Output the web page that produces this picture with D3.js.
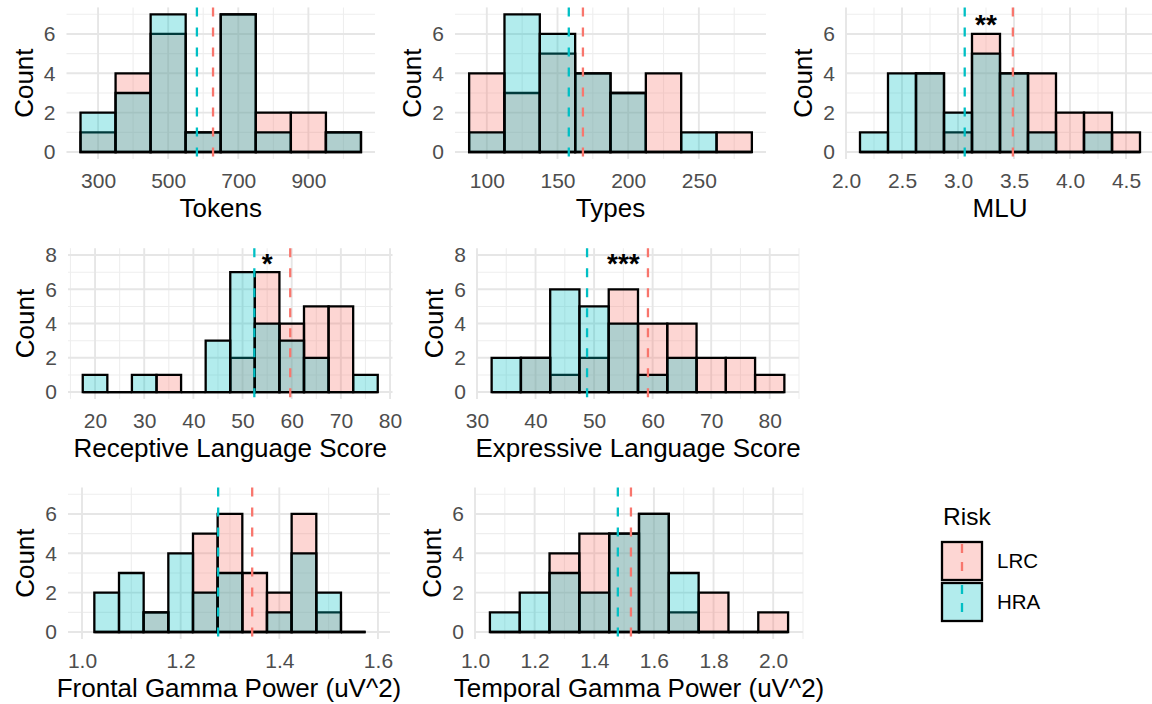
<!DOCTYPE html>
<html>
<head>
<meta charset="utf-8">
<script src="https://cdn.jsdelivr.net/npm/d3@7"></script>
<style>
  html, body { margin: 0; padding: 0; background: #ffffff; }
  svg { display: block; font-family: "Liberation Sans", Arial, Helvetica, sans-serif; }
</style>
</head>
<body>
<svg id="chart" width="1152" height="704"></svg>
<script>
// ---------------- data ----------------
const riskGroups = ["LRC", "HRA"];
const riskColors = ["#F8766D", "#00BFC4"];

// histogram bin centres and counts per risk group
const tokensBins = [300, 400, 500, 600, 700, 800, 900, 1000];
const tokensLRC  = [1, 4, 6, 1, 7, 2, 2, 1];
const tokensHRA  = [2, 3, 7, 1, 7, 1, 0, 1];

const typesBins = [100, 125, 150, 175, 200, 225, 250, 275];
const typesLRC  = [4, 3, 5, 4, 3, 4, 0, 1];
const typesHRA  = [1, 7, 6, 4, 3, 0, 1, 0];

const mluBins = [2.25, 2.5, 2.75, 3.0, 3.25, 3.5, 3.75, 4.0, 4.25, 4.5];
const mluLRC  = [0, 0, 4, 1, 6, 4, 4, 2, 2, 1];
const mluHRA  = [1, 4, 4, 2, 5, 4, 1, 0, 1, 0];

const receptiveBins = [20, 25, 30, 35, 40, 45, 50, 55, 60, 65, 70, 75];
const receptiveLRC  = [0, 0, 0, 1, 0, 0, 2, 7, 4, 5, 5, 0];
const receptiveHRA  = [1, 0, 1, 0, 0, 3, 7, 4, 3, 2, 0, 1];

const expressiveBins = [35, 40, 45, 50, 55, 60, 65, 70, 75, 80];
const expressiveLRC  = [0, 2, 1, 2, 6, 4, 4, 2, 2, 1];
const expressiveHRA  = [2, 2, 6, 5, 4, 1, 2, 0, 0, 0];

const frontalBins = [1.05, 1.10, 1.15, 1.20, 1.25, 1.30, 1.35, 1.40, 1.45, 1.50, 1.55];
const frontalLRC  = [0, 0, 1, 0, 5, 6, 3, 2, 6, 1, 0];
const frontalHRA  = [2, 3, 1, 4, 2, 3, 0, 1, 4, 2, 0];

const temporalBins = [1.1, 1.2, 1.3, 1.4, 1.5, 1.6, 1.7, 1.8, 1.9, 2.0];
const temporalLRC  = [0, 0, 4, 5, 5, 6, 1, 2, 0, 1];
const temporalHRA  = [1, 2, 3, 2, 5, 6, 3, 0, 0, 0];

// group means (dashed lines)
const meanLRC = [628, 168, 3.49, 59.7, 59.2, 1.345, 1.523];
const meanHRA = [582, 158, 3.06, 52.4, 48.8, 1.276, 1.479];

// significance markers
const sigPanel = [2, 3, 4];
const sigLabel = ["**", "*", "***"];
const sigX     = [3.25, 55, 55];
const sigY     = [6.8, 7.9, 7.9];

// axis titles and tick labels
const xTitles = ["Tokens", "Types", "MLU", "Receptive Language Score",
                 "Expressive Language Score", "Frontal Gamma Power (uV^2)",
                 "Temporal Gamma Power (uV^2)"];
const tokensTicks     = [300, 500, 700, 900];
const typesTicks      = [100, 150, 200, 250];
const mluTicks        = [2.0, 2.5, 3.0, 3.5, 4.0, 4.5];
const receptiveTicks  = [20, 30, 40, 50, 60, 70, 80];
const expressiveTicks = [30, 40, 50, 60, 70, 80];
const frontalTicks    = [1.0, 1.2, 1.4, 1.6];
const temporalTicks   = [1.0, 1.2, 1.4, 1.6, 1.8, 2.0];
const countTicksShort = [0, 2, 4, 6];
const countTicksTall  = [0, 2, 4, 6, 8];

// ---------------- panel definitions ----------------
const panels = [
  { bins: tokensBins, counts: [tokensLRC, tokensHRA], ticks: tokensTicks, fmt: d3.format("d"),
    yTicks: countTicksShort, box: [66.5, 375, 7.4, 158.9], xdom: [210, 1090], ydom: [-0.35, 7.35] },
  { bins: typesBins, counts: [typesLRC, typesHRA], ticks: typesTicks, fmt: d3.format("d"),
    yTicks: countTicksShort, box: [455, 766, 7.4, 158.9], xdom: [77.5, 297.5], ydom: [-0.35, 7.35] },
  { bins: mluBins, counts: [mluLRC, mluHRA], ticks: mluTicks, fmt: d3.format(".1f"),
    yTicks: countTicksShort, box: [846, 1154, 7.4, 158.9], xdom: [2.0, 4.75], ydom: [-0.35, 7.35] },
  { bins: receptiveBins, counts: [receptiveLRC, receptiveHRA], ticks: receptiveTicks, fmt: d3.format("d"),
    yTicks: countTicksTall, box: [68, 392.5, 248.2, 398.9], xdom: [14.5, 80.5], ydom: [-0.4, 8.4] },
  { bins: expressiveBins, counts: [expressiveLRC, expressiveHRA], ticks: expressiveTicks, fmt: d3.format("d"),
    yTicks: countTicksTall, box: [477, 799, 248.2, 398.9], xdom: [30, 85], ydom: [-0.4, 8.4] },
  { bins: frontalBins, counts: [frontalLRC, frontalHRA], ticks: frontalTicks, fmt: d3.format(".1f"),
    yTicks: countTicksShort, box: [68, 390, 487.4, 638.9], xdom: [0.9716, 1.6244], ydom: [-0.35, 7.35] },
  { bins: temporalBins, counts: [temporalLRC, temporalHRA], ticks: temporalTicks, fmt: d3.format(".1f"),
    yTicks: countTicksShort, box: [475, 803, 487.4, 638.9], xdom: [1.0, 2.1], ydom: [-0.35, 7.35] }
];

const svg = d3.select("#chart");
const TICK_SIZE = 21, TITLE_SIZE = 26;

// minor breaks halfway between major breaks, kept inside the domain
function minorBreaks(major, dom) {
  const step = major[1] - major[0];
  const out = [];
  for (let i = -1; i < major.length; i++) {
    const v = major[0] + step * (i + 0.5);
    if (v >= dom[0] - 1e-9 && v <= dom[1] + 1e-9) out.push(v);
  }
  return out;
}

panels.forEach((p, i) => {
  const [x0, x1, y0, y1] = p.box;
  const x = d3.scaleLinear().domain(p.xdom).range([x0, x1]);
  const y = d3.scaleLinear().domain(p.ydom).range([y1, y0]);
  const g = svg.append("g").attr("class", "panel");

  // grid
  const grid = g.append("g").attr("fill", "none");
  minorBreaks(p.ticks, p.xdom).forEach(v => grid.append("line")
    .attr("x1", x(v)).attr("x2", x(v)).attr("y1", y0).attr("y2", y1)
    .attr("stroke", "#eeeeee").attr("stroke-width", 1.1));
  minorBreaks(p.yTicks, p.ydom).forEach(v => grid.append("line")
    .attr("x1", x0).attr("x2", x1).attr("y1", y(v)).attr("y2", y(v))
    .attr("stroke", "#eeeeee").attr("stroke-width", 1.1));
  p.ticks.forEach(v => grid.append("line")
    .attr("x1", x(v)).attr("x2", x(v)).attr("y1", y0).attr("y2", y1)
    .attr("stroke", "#e6e6e6").attr("stroke-width", 1.9));
  p.yTicks.forEach(v => grid.append("line")
    .attr("x1", x0).attr("x2", x1).attr("y1", y(v)).attr("y2", y(v))
    .attr("stroke", "#e6e6e6").attr("stroke-width", 1.9));

  // overlapping histograms: LRC underneath, HRA on top
  const bw = p.bins[1] - p.bins[0];
  riskGroups.forEach((grp, gi) => {
    g.append("g").selectAll("path")
      .data(p.bins.map((c, k) => ({ c, n: p.counts[gi][k] })))
      .join("path")
      .attr("d", d => {
        const path = d3.path();
        const xa = x(d.c - bw / 2), xb = x(d.c + bw / 2);
        path.moveTo(xa, y(0));
        path.lineTo(xa, y(d.n));
        path.lineTo(xb, y(d.n));
        path.lineTo(xb, y(0));
        path.closePath();
        return path.toString();
      })
      .attr("fill", riskColors[gi])
      .attr("fill-opacity", 0.3)
      .attr("stroke", "#000")
      .attr("stroke-width", 2.3)
      .attr("stroke-linejoin", "miter");
  });

  // group means
  [meanLRC[i], meanHRA[i]].forEach((m, gi) => {
    g.append("line")
      .attr("x1", x(m)).attr("x2", x(m)).attr("y1", y0).attr("y2", y1)
      .attr("stroke", riskColors[gi]).attr("stroke-width", 2.3)
      .attr("stroke-dasharray", "9,11");
  });

  // axes
  const xAxis = g.append("g").attr("transform", `translate(0,${y1})`)
    .call(d3.axisBottom(x).tickValues(p.ticks).tickFormat(p.fmt).tickSize(0).tickPadding(14));
  xAxis.select(".domain").remove();
  xAxis.selectAll("text").attr("fill", "#4D4D4D").attr("font-size", TICK_SIZE)
    .attr("font-family", "Liberation Sans, Arial, sans-serif");

  const yAxis = g.append("g").attr("transform", `translate(${x0},0)`)
    .call(d3.axisLeft(y).tickValues(p.yTicks).tickFormat(d3.format("d")).tickSize(0).tickPadding(11));
  yAxis.select(".domain").remove();
  yAxis.selectAll("text").attr("fill", "#4D4D4D").attr("font-size", TICK_SIZE)
    .attr("font-family", "Liberation Sans, Arial, sans-serif");

  // titles
  g.append("text")
    .attr("x", (x0 + x1) / 2).attr("y", y1 + 57.6)
    .attr("text-anchor", "middle").attr("font-size", TITLE_SIZE).attr("fill", "#000")
    .text(xTitles[i]);
  g.append("text")
    .attr("transform", `translate(${x0 - 34},${(y0 + y1) / 2}) rotate(-90)`)
    .attr("text-anchor", "middle").attr("font-size", TITLE_SIZE).attr("fill", "#000")
    .text("Count");

  // significance marker
  sigPanel.forEach((sp, k) => {
    if (sp !== i) return;
    g.append("text")
      .attr("x", x(sigX[k])).attr("y", y(sigY[k]) + 16)
      .attr("text-anchor", "middle").attr("font-size", 28).attr("font-weight", "bold")
      .attr("fill", "#000")
      .text(sigLabel[k]);
  });
});

// ---------------- legend ----------------
const legend = svg.append("g").attr("transform", "translate(942,0)");
legend.append("text").attr("x", 1).attr("y", 525)
  .attr("font-size", 24.5).attr("fill", "#000").text("Risk");
const keyTop = [542, 583];
riskGroups.forEach((grp, gi) => {
  const k = legend.append("g").attr("transform", `translate(0,${keyTop[gi]})`);
  k.append("rect").attr("x", 0).attr("y", 0).attr("width", 40).attr("height", 38)
    .attr("fill", riskColors[gi]).attr("fill-opacity", 0.3)
    .attr("stroke", "#000").attr("stroke-width", 2.3);
  k.append("line").attr("x1", 20).attr("x2", 20).attr("y1", 1).attr("y2", 37)
    .attr("stroke", riskColors[gi]).attr("stroke-width", 2.3)
    .attr("stroke-dasharray", "9,9").attr("stroke-dashoffset", -1);
  k.append("text").attr("x", 55).attr("y", 19).attr("dy", "0.36em")
    .attr("font-size", 20.5).attr("fill", "#000").text(grp);
});
</script>
</body>
</html>
